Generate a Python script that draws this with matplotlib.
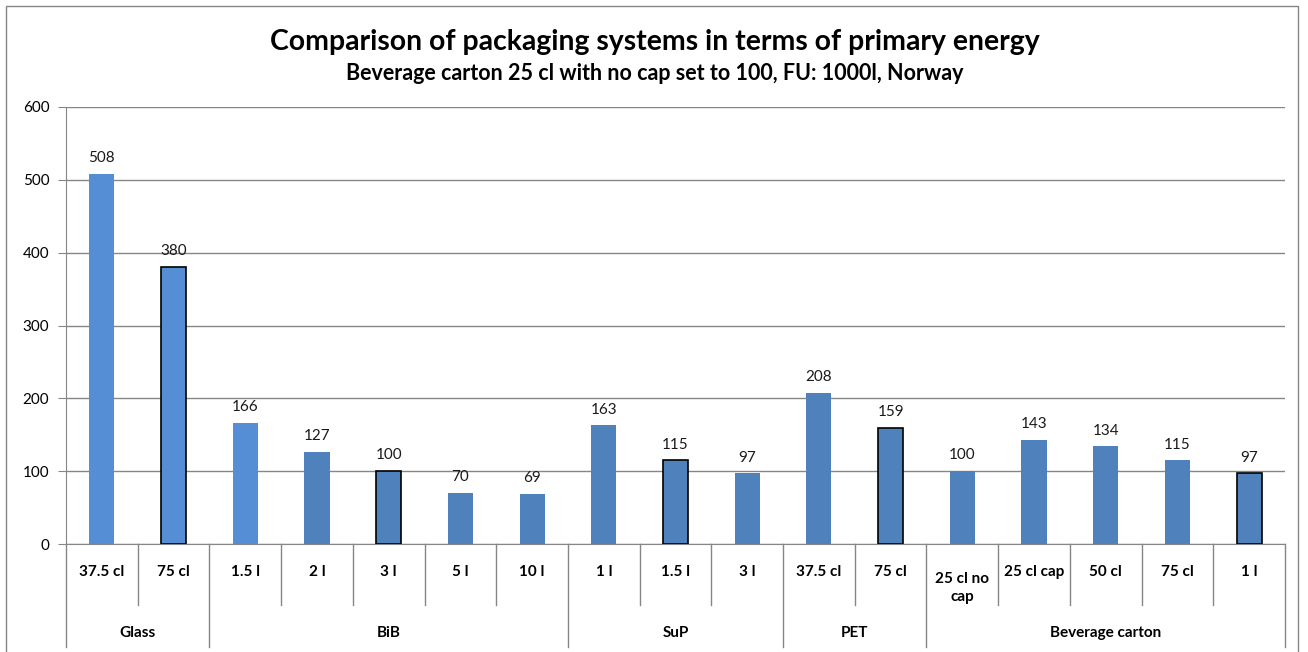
import matplotlib.pyplot as plt
from matplotlib.patches import Rectangle
from matplotlib.transforms import blended_transform_factory

plt.rcParams['font.family'] = ['Lato', 'DejaVu Sans']

# data
groups = ['Glass', 'BiB', 'SuP', 'PET', 'Beverage carton']
group_sizes = [2, 5, 3, 2, 5]
labels = ['37.5 cl', '75 cl',
          '1.5 l', '2 l', '3 l', '5 l', '10 l',
          '1 l', '1.5 l', '3 l',
          '37.5 cl', '75 cl',
          '25 cl no\ncap', '25 cl cap', '50 cl', '75 cl', '1 l']
values = [508, 380,
          166, 127, 100, 70, 69,
          163, 115, 97,
          208, 159,
          100, 143, 134, 115, 97]
# which bars have a black outline / lighter fill in the original
outlined = [0, 1, 0, 0, 1, 0, 0, 0, 1, 0, 0, 1, 0, 0, 0, 0, 1]
light = [1, 1, 1, 0, 0, 0, 0, 0, 0, 0, 0, 0, 0, 0, 0, 0, 0]

W, H = 1308, 652
fig = plt.figure(figsize=(W / 100, H / 100), dpi=100)

# outer chart border
fig.patches.append(Rectangle((6 / W, -0.05), 1292 / W, 1 - 6 / H + 0.05,
                             transform=fig.transFigure, fill=False,
                             edgecolor='#868686', linewidth=1))

left, right, top, bottom = 66, 1285, 107, 544
ax = fig.add_axes([left / W, 1 - bottom / H, (right - left) / W, (bottom - top) / H])

n = len(values)
x = list(range(n))
colors = ['#558ED5' if l else '#4F81BD' for l in light]
edges = ['black' if o else 'none' for o in outlined]
ax.bar(x, values, width=0.35, color=colors, edgecolor=edges, linewidth=1.2, zorder=3)

for xi, v in zip(x, values):
    ax.text(xi, v + 12, str(v), ha='center', va='bottom', fontsize=11, color='#1a1a1a')

ax.set_xlim(-0.5, n - 0.5)
ax.set_ylim(0, 600)
ax.set_yticks(range(0, 601, 100))
ax.tick_params(axis='y', length=6, color='#868686', labelsize=11, pad=6)
ax.tick_params(axis='x', bottom=False, labelbottom=False)
ax.grid(axis='y', color='#868686', linewidth=1, zorder=0)
for s in ['top', 'right']:
    ax.spines[s].set_visible(False)
for s in ['left', 'bottom']:
    ax.spines[s].set_color('#868686')

# multi-level category axis
tr = blended_transform_factory(ax.transData, ax.transAxes)
h = bottom - top
y_lab = -(572 - bottom) / h
y_mid = -(605 - bottom) / h
y_grp = -(633 - bottom) / h
y_end = -(647 - bottom) / h

for xi, lab in zip(x, labels):
    ax.text(xi, y_lab, lab, transform=tr, ha='center', va='top' if '\n' in lab else 'center',
            fontsize=11, fontweight='bold', linespacing=1.4)

start = 0
bounds = [0]
for g, size in zip(groups, group_sizes):
    ax.text(start + size / 2 - 0.5, y_grp, g, transform=tr, ha='center', va='center',
            fontsize=11, fontweight='bold')
    start += size
    bounds.append(start)

for b in range(n + 1):
    y2 = y_end if b in bounds else y_mid
    ax.plot([b - 0.5, b - 0.5], [0, y2], transform=tr, color='#868686',
            linewidth=1, clip_on=False)

fig.text(655 / W, 1 - 42 / H, 'Comparison of packaging systems in terms of primary energy',
         ha='center', va='center', fontsize=20.4, fontweight='bold')
fig.text(655 / W, 1 - 73 / H, 'Beverage carton 25 cl with no cap set to 100, FU: 1000l, Norway',
         ha='center', va='center', fontsize=15.5, fontweight='bold')

fig.savefig('out.png', dpi=100)
